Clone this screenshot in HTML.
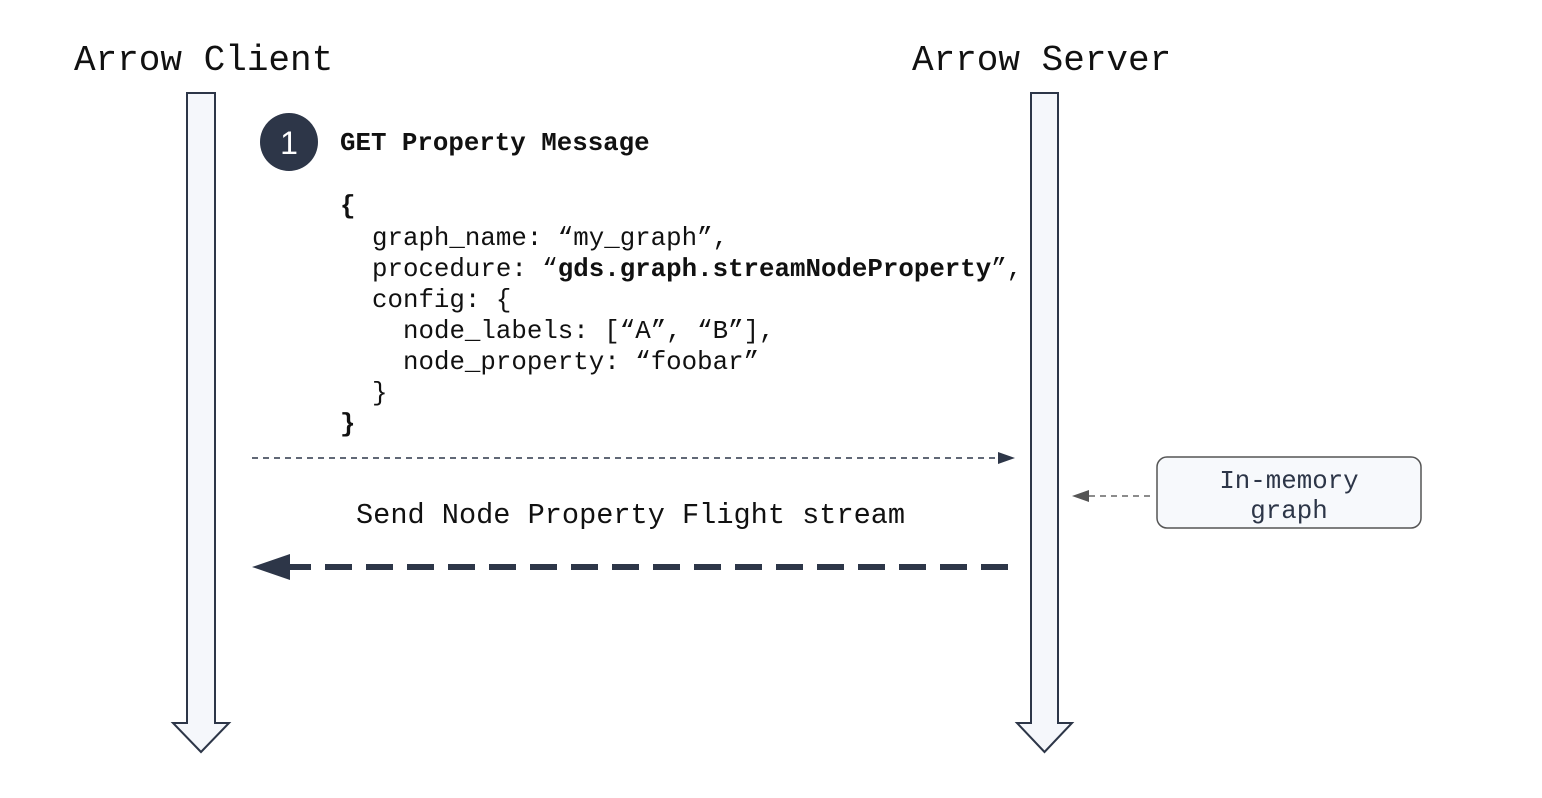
<!DOCTYPE html>
<html><head><meta charset="utf-8"><style>
html,body{margin:0;padding:0;background:#fff;}
svg{display:block;}
text{font-family:"Liberation Mono",monospace;fill:#111;}
</style></head><body>
<svg width="1542" height="798" viewBox="0 0 1542 798" xmlns="http://www.w3.org/2000/svg">
<text x="74" y="70" font-size="36">Arrow Client</text>
<text x="912" y="70" font-size="36">Arrow Server</text>
<path d="M187,93 H215 V723 H229 L201,752 L173,723 H187 Z" fill="#f5f7fb" stroke="#2d3648" stroke-width="2"/>
<path d="M1031,93 H1058 V723 H1072 L1044.5,752 L1017,723 H1031 Z" fill="#f5f7fb" stroke="#2d3648" stroke-width="2"/>
<circle cx="289" cy="142" r="29" fill="#2d3648"/>
<text x="289" y="154" font-size="32" text-anchor="middle" style="font-family:'Liberation Sans',sans-serif;fill:#fff">1</text>
<g font-size="25.8">
<text x="340" y="150" font-weight="bold">GET Property Message</text>
<text x="340" y="213" font-weight="bold">{</text>
<text x="372" y="245">graph_name: “my_graph”,</text>
<text x="372" y="276">procedure: “<tspan font-weight="bold">gds.graph.streamNodeProperty</tspan>”,</text>
<text x="372" y="307">config: {</text>
<text x="403" y="338">node_labels: [“A”, “B”],</text>
<text x="403" y="369">node_property: “foobar”</text>
<text x="372" y="400">}</text>
<text x="340" y="431" font-weight="bold">}</text>
</g>
<line x1="252" y1="458" x2="1000" y2="458" stroke="#2d3648" stroke-width="1.5" stroke-dasharray="6,5"/>
<path d="M1015,458 L998,452 L998,464 Z" fill="#2d3648"/>
<text x="356" y="523" font-size="28.6">Send Node Property Flight stream</text>
<line x1="1008" y1="567" x2="290" y2="567" stroke="#2d3648" stroke-width="6" stroke-dasharray="27,14"/>
<path d="M252,567 L290,554 L290,580 Z" fill="#2d3648"/>
<rect x="1157" y="457" width="264" height="71" rx="10" fill="#f7f9fc" stroke="#555" stroke-width="1.5"/>
<text x="1289" y="488" font-size="25.8" text-anchor="middle" style="fill:#2d3648">In-memory</text>
<text x="1289" y="518" font-size="25.8" text-anchor="middle" style="fill:#2d3648">graph</text>
<line x1="1150" y1="496" x2="1086" y2="496" stroke="#666" stroke-width="1.5" stroke-dasharray="6,5"/>
<path d="M1072,496 L1089,490 L1089,502 Z" fill="#555"/>
</svg>
</body></html>
